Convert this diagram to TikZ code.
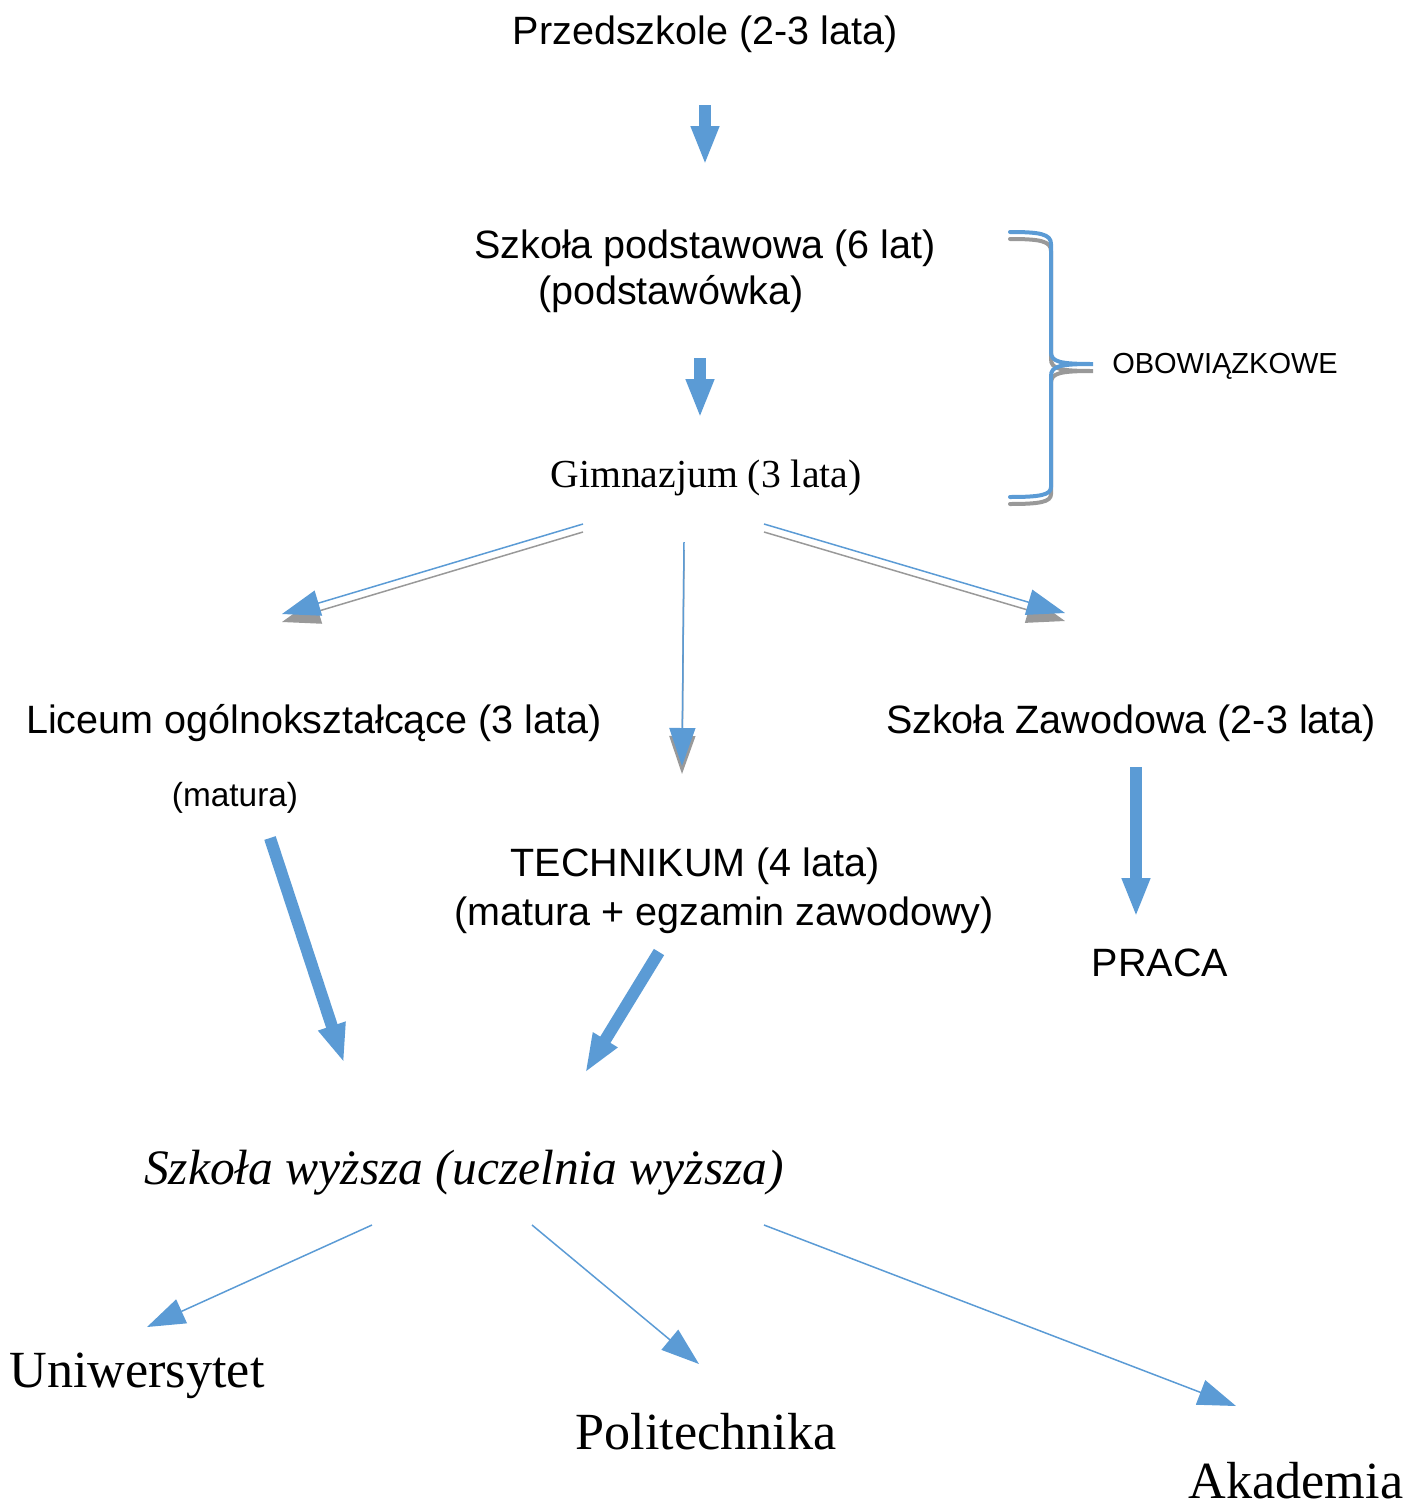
\documentclass[tikz,border=0pt]{standalone}
\usepackage{fontspec}
\setmainfont{Liberation Sans}
\newfontfamily\szeryf{Liberation Serif}
\usetikzlibrary{arrows.meta}

\definecolor{niebieski}{HTML}{5B9BD5}
\definecolor{szary}{HTML}{999999}

\tikzset{
  napis/.style={inner sep=0pt, font=\fontsize{22.5}{27}\selectfont},
  napisszeryf/.style={inner sep=0pt, font=\szeryf\fontsize{29.7}{34}\selectfont},
  gruba/.style={niebieski, line width=0.24cm, -{Triangle[width=0.52cm,length=0.78cm]}},
  cienka/.style={niebieski, line width=0.03cm, -{Triangle[width=0.52cm,length=0.76cm]}},
  cien/.style={szary, line width=0.03cm, -{Triangle[width=0.52cm,length=0.76cm]}},
  klamra/.style={line width=0.08cm, line cap=round}
}

\begin{document}
\begin{tikzpicture}[x=0.02cm, y=-0.02cm]
  \useasboundingbox (0,0) rectangle (1423,1508);

  \node[napis] (przedszkole) at (705,34) {Przedszkole (2-3 lata)};
  \node[napis] (podstawowa) at (705,248) {Szkoła podstawowa (6 lat)};
  \node[napis] (podstawowka) at (671,294) {(podstawówka)};
  \node[inner sep=0pt, font=\szeryf\fontsize{22.6}{27}\selectfont] (gimnazjum) at (706,478) {Gimnazjum (3 lata)};
  \node[inner sep=0pt, font=\fontsize{16.5}{20}\selectfont] (obowiazkowe) at (1225,366) {OBOWIĄZKOWE};
  \node[napis] (liceum) at (314,723) {Liceum ogólnokształcące (3 lata)};
  \node[inner sep=0pt, font=\fontsize{19}{23}\selectfont] (matura) at (235,798) {(matura)};
  \node[napis] (zawodowa) at (1131,723) {Szkoła Zawodowa (2-3 lata)};
  \node[napis] (technikum) at (695,866) {TECHNIKUM (4 lata)};
  \node[napis] (egzamin) at (724,915) {(matura + egzamin zawodowy)};
  \node[napis] (praca) at (1160,963) {PRACA};
  \node[inner sep=0pt, font=\szeryf\itshape\fontsize{28.2}{34}\selectfont] (wyzsza) at (464,1173) {Szkoła wyższa (uczelnia wyższa)};
  \node[napisszeryf] (uniwersytet) at (137,1376) {Uniwersytet};
  \node[napisszeryf] (politechnika) at (706,1432) {Politechnika};
  \node[napisszeryf] (akademia) at (1296,1481) {Akademia};

  % konce strzalek
  \coordinate (s1) at (705,105);  \coordinate (k1) at (705,165);
  \coordinate (s2) at (700,358);  \coordinate (k2) at (700,418);
  \coordinate (s3) at (583,524);  \coordinate (k3) at (282,614);
  \coordinate (s4) at (684,542);  \coordinate (k4) at (682,766);
  \coordinate (s5) at (764,524);  \coordinate (k5) at (1065,613);
  \coordinate (s6) at (270,838);  \coordinate (k6) at (344,1063);
  \coordinate (s7) at (659,952);  \coordinate (k7) at (585,1073);
  \coordinate (s8) at (1136,767); \coordinate (k8) at (1136,917);
  \coordinate (s9) at (372,1225); \coordinate (k9) at (147,1327);
  \coordinate (s10) at (532,1225); \coordinate (k10) at (699,1364);
  \coordinate (s11) at (764,1225); \coordinate (k11) at (1236,1406);

  \draw[gruba] (s1) -- (k1);
  \draw[gruba] (s2) -- (k2);

  % klamra
  \foreach \kolor/\dy in {szary/7, niebieski/0}
    \draw[klamra, \kolor, yshift=-\dy*0.02cm] (1010,232) .. controls (1040,232) and (1051,234) .. (1051,244)
      -- (1051,352) .. controls (1051,362) and (1060,364) .. (1093,364)
      .. controls (1060,364) and (1051,366) .. (1051,376)
      -- (1051,487) .. controls (1051,495) and (1040,497) .. (1010,497);

  \foreach \a in {3,4,5}
    \draw[cien] ([yshift=-0.16cm]s\a) -- ([yshift=-0.16cm]k\a);
  \foreach \a in {3,4,5}
    \draw[cienka] (s\a) -- (k\a);

  \foreach \a in {6,7,8}
    \draw[gruba] (s\a) -- (k\a);
  \foreach \a in {9,10,11}
    \draw[cienka] (s\a) -- (k\a);
\end{tikzpicture}
\end{document}
